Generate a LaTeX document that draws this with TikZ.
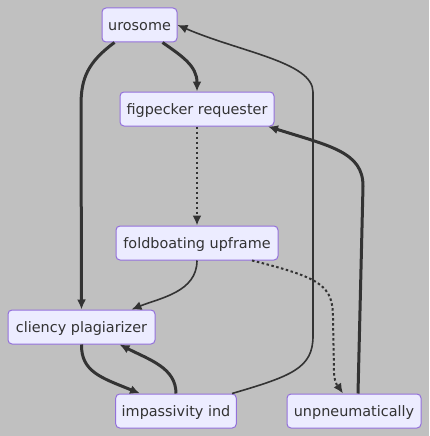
\documentclass[tikz,border=0pt]{standalone}
\usepackage{fontspec}
\setmainfont{DejaVu Sans}
\usetikzlibrary{arrows.meta}
\definecolor{nodefill}{HTML}{ECECFF}
\definecolor{nodeline}{HTML}{9370DB}
\definecolor{edgecol}{HTML}{333333}
\definecolor{bgcol}{HTML}{C0C0C0}

\begin{document}
\begin{tikzpicture}[
    x=1pt, y=-1pt,
    >={Latex[length=10pt,width=9pt]},
    font=\fontsize{14.4}{16}\selectfont,
    block/.style={draw=nodeline, fill=nodefill, text=edgecol, line width=1pt,
        rounded corners=4pt, minimum height=34pt, inner xsep=6pt,
        text height=12pt, text depth=1pt},
    line/.style={->, draw=edgecol, line width=1.6pt},
    heavy/.style={->, draw=edgecol, line width=3pt},
    dots/.style={->, draw=edgecol, line width=2pt, dash pattern=on 2.5pt off 2.5pt}
    ]

% background and page size
\fill[bgcol] (0,0) rectangle (429,436);

% nodes (fixed coordinates)
\node[block, minimum width=75pt]  (uro)   at (139.5,25)  {urosome};
\node[block, minimum width=154pt] (fig)   at (197,109)   {figpecker requester};
\node[block, minimum width=162pt] (fold)  at (197,243)   {foldboating upframe};
\node[block, minimum width=147pt] (cli)   at (81.5,327)  {cliency plagiarizer};
\node[block, minimum width=120pt] (imp)   at (176,411)   {impassivity ind};
\node[block, minimum width=134pt] (unp)   at (354,411)   {unpneumatically};

% edges
\draw[heavy] ([xshift=23pt]uro.south) .. controls (182,56) and (197,66) .. (fig.north);
\draw[heavy] ([xshift=-25pt]uro.south) .. controls (88,62) and (81,78) .. (81,105) -- (cli.north);
\draw[dots] (fig.south) -- (fold.north);
\draw[line] (fold.south) .. controls (197,292) and (160,298) .. ([xshift=50pt]cli.north);
\draw[dots] ([xshift=55pt]fold.south) .. controls (322,278) and (333,286) .. (333,318)
    -- (334,372) .. controls (334,384) and (340,389) .. ([xshift=-11pt]unp.north);
\draw[heavy] (cli.south) .. controls (81,372) and (102,378) .. ([xshift=-36pt]imp.north);
\draw[heavy] (imp.north) .. controls (176,368) and (150,360) .. ([xshift=38pt]cli.south);
\draw[line] ([xshift=56pt]imp.north) .. controls (292,376) and (313,368) .. (313,336)
    -- (313,92) .. controls (313,62) and (240,52) .. (uro.east);
\draw[heavy] ([xshift=4pt]unp.north) -- (363,186) .. controls (363,152) and (330,146) .. ([xshift=71pt]fig.south);

\end{tikzpicture}
\end{document}
